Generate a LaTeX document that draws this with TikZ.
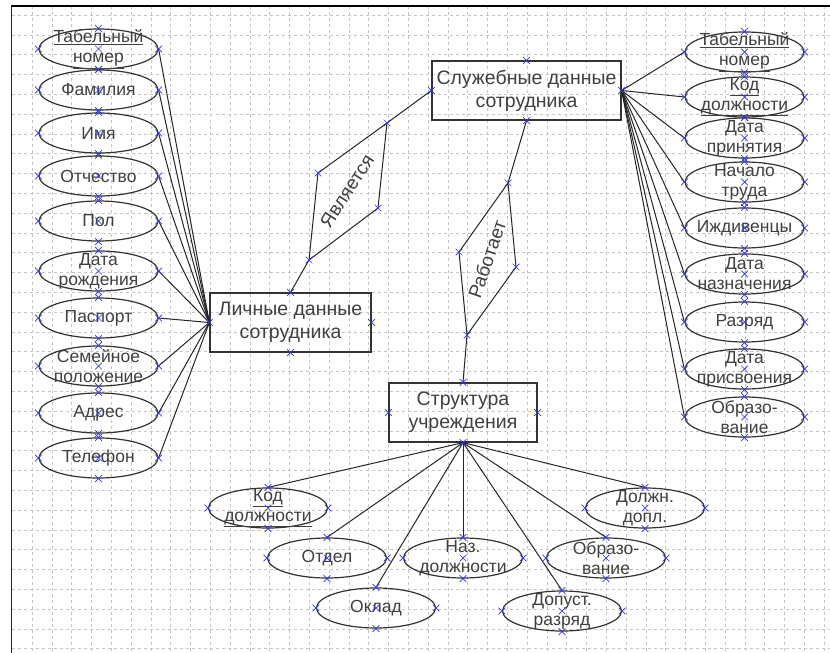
\documentclass[tikz,border=0pt]{standalone}
\usepackage{fontspec}
\setmainfont{Liberation Sans}
\usetikzlibrary{shapes.geometric,shapes.misc}

\tikzset{
  gridline/.style={gray!45, dashed, line width=0.5pt},
  entity/.style={draw=black!80, line width=1.3pt, rectangle, minimum width=#1, minimum height=59pt,
    inner sep=0pt, align=center, font=\fontsize{19.5}{23}\selectfont, text=black!75},
  attr/.style={draw=black!80, line width=1.2pt, ellipse, minimum width=119pt, minimum height=40pt, inner sep=0pt},
  lbl/.style={align=center, font=\fontsize{17.5}{20}\selectfont, text=black!75, inner sep=0pt},
  link/.style={black!85, line width=1pt},
  xmark/.style={cross out, draw=blue!80, line width=0.7pt, minimum size=6pt, inner sep=0pt},
}
\newcommand\ellmarks[1]{\foreach \a in {west,east,north,south,center}{\node[xmark] at (#1.\a) {};}}
\newcommand\boxmarks[1]{\foreach \a in {west,east,north,south}{\node[xmark] at (#1.\a) {};}}

\begin{document}
\begin{tikzpicture}[x=1pt,y=-1pt]
\useasboundingbox (0,0) rectangle (830,653);
\fill[white] (0,0) rectangle (830,653);

%Grid
\foreach \i in {0,...,40} \draw[gridline] ({32+19.8*\i},6) -- ({32+19.8*\i},653);
\foreach \i in {0,...,32} \draw[gridline] (12,{15+19.8*\i}) -- (830,{15+19.8*\i});
\draw[black!85, line width=1.8pt] (11.5,653) -- (11.5,6);
\draw[black, line width=1.2pt] (11,6) -- (830,6);

%Entities
\node[entity=161pt] (lich) at (290.5,322.5) {Личные данные\\сотрудника};
\node[entity=189pt] (sluzh) at (526.5,90.5) {Служебные данные\\сотрудника};
\node[entity=148pt] (struct) at (463,412.5) {Структура\\учреждения};

%Relationships
\coordinate (yt) at (387,123);
\coordinate (yl) at (318,173);
\coordinate (yr) at (378,208);
\coordinate (yb) at (309,260);
\draw[link] (yt) -- (yl) -- (yb) -- (yr) -- cycle;
\node[lbl, font=\fontsize{19}{21}\selectfont, rotate=57] at (347,191) {Является};
\draw[link] (sluzh.west) -- (yt);
\draw[link] (yb) -- (lich.north);

\coordinate (rt) at (508,183);
\coordinate (rl) at (459,252);
\coordinate (rr) at (516,267);
\coordinate (rb) at (467,335);
\draw[link] (rt) -- (rl) -- (rb) -- (rr) -- cycle;
\node[lbl, font=\fontsize{19}{21}\selectfont, rotate=71] at (487,259) {Работает};
\draw[link] (sluzh.south) -- (rt);
\draw[link] (rb) -- (struct.north);

%Personal data attributes
\foreach \nm/\y/\txt in {ltab/49/{\underline{Табельный}\\\underline{номер}}, lfam/90/Фамилия,
    limya/133/Имя, lotch/176/Отчество, lpol/221/Пол, ldr/271/{Дата\\рождения},
    lpasp/318/Паспорт, lsem/366/{Семейное\\положение}, ladr/413/Адрес, ltel/458/Телефон}{
  \node[attr, label={[lbl]center:\txt}] (\nm) at (98.5,\y) {};
  \draw[link] (\nm.east) -- (lich.west);
  \ellmarks{\nm}
}

%Job data attributes
\foreach \nm/\y/\txt in {rtab/52/{\underline{Табельный}\\\underline{номер}},
    rkod/97/{\underline{Код}\\\underline{должности}}, rdpr/138/{Дата\\принятия},
    rnach/182/{Начало\\труда}, rizh/228/Иждивенцы, rdn/274/{Дата\\назначения},
    rraz/322/Разряд, rdprs/369/{Дата\\присвоения}, robr/417/{Образо-\\вание}}{
  \node[attr, label={[lbl]center:\txt}] (\nm) at (744.5,\y) {};
  \draw[link] (sluzh.east) -- (\nm.west);
  \ellmarks{\nm}
}

%Structure attributes
\foreach \nm/\x/\y/\txt in {bkod/268/508/{\underline{Код}\\\underline{должности}},
    botd/327/558/Отдел, bokl/376/608/Оклад, bnaz/463/558/{Наз.\\должности},
    bdop/562/611/{Допуст.\\разряд}, bobr/606/558/{Образо-\\вание}, bdol/645/508/{Должн.\\допл.}}{
  \node[attr, label={[lbl]center:\txt}] (\nm) at (\x,\y) {};
  \draw[link] (struct.south) -- (\nm.north);
  \ellmarks{\nm}
}

%Connection points
\boxmarks{lich}
\boxmarks{sluzh}
\boxmarks{struct}
\foreach \c in {yt,yl,yr,yb,rt,rl,rr,rb} \node[xmark] at (\c) {};
\end{tikzpicture}
\end{document}
